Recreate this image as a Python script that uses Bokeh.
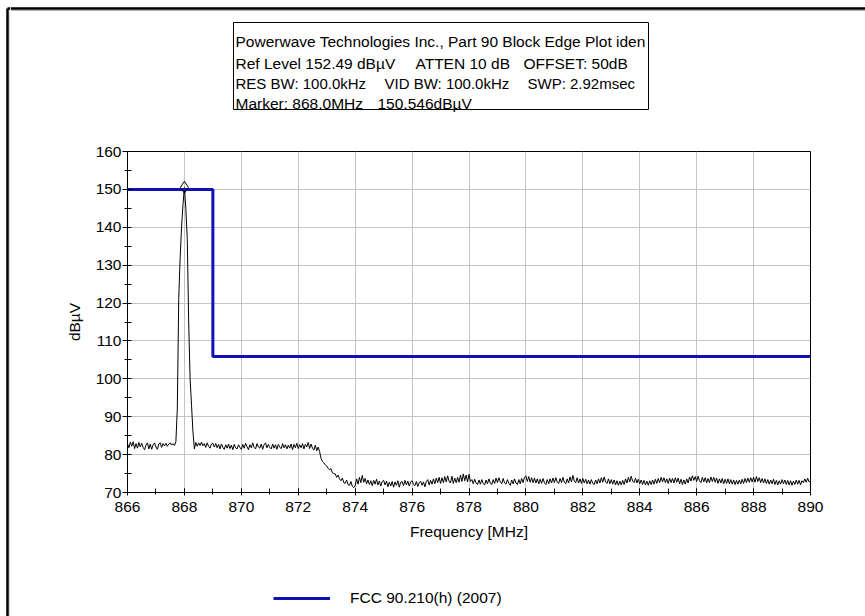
import numpy as np
from bokeh.plotting import figure
from bokeh.layouts import row, column
from bokeh.models import Range1d, Legend, LegendItem, SingleIntervalTicker, ColumnDataSource
from bokeh.core.properties import value
from bokeh.embed import file_html
from bokeh.resources import INLINE

# ---- sweep settings -------------------------------------------------------
f_start, f_stop = 866.0, 890.0   # MHz

# measured level, dBuV, one point every 50 kHz (one row per MHz)
trace_dbuv = [
    # 866
    82.9, 81.8, 83.3, 82.2, 83.4, 81.6, 82.9, 81.7, 83.2, 82.0,
    83.0, 81.9, 81.3, 82.5, 83.1, 81.5, 82.8, 81.4, 82.6, 83.1,
    # 867
    82.0, 81.4, 82.8, 83.1, 81.9, 82.9, 82.3, 83.0, 82.2, 82.8,
    83.1, 82.5, 82.9, 82.4, 83.4, 92.0, 121.0, 132.0, 140.0, 146.0,
    # 868
    150.5, 145.0, 137.0, 115.0, 100.0, 93.0, 86.0, 81.5, 83.2, 82.2,
    83.1, 82.4, 83.3, 82.3, 82.9, 81.9, 83.1, 82.2, 81.7, 82.8,
    # 869
    83.0, 82.0, 82.9, 81.8, 82.7, 81.5, 82.8, 81.9, 81.4, 82.6,
    81.7, 82.8, 81.6, 82.5, 81.3, 82.7, 81.8, 81.5, 82.6, 81.9,
    # 870
    81.4, 82.7, 81.7, 83.0, 82.1, 81.3, 82.6, 81.8, 83.1, 81.9,
    81.5, 82.9, 82.0, 81.7, 82.8, 81.4, 82.6, 83.1, 81.8, 82.7,
    # 871
    81.9, 81.5, 82.8, 81.7, 82.6, 81.4, 82.7, 81.9, 81.6, 82.9,
    81.8, 82.6, 81.5, 82.5, 81.7, 82.8, 81.3, 82.7, 81.8, 83.0,
    # 872
    81.6, 82.6, 81.8, 82.9, 81.5, 82.7, 82.0, 83.2, 81.6, 82.8,
    81.7, 81.2, 82.5, 81.0, 82.0, 80.8, 79.0, 78.2, 77.8, 77.3,
    # 873
    77.0, 76.4, 76.0, 76.3, 75.2, 75.0, 74.9, 74.0, 74.6, 73.6,
    73.1, 73.8, 72.6, 72.4, 73.3, 72.1, 71.9, 72.9, 71.6, 71.3,
    # 874
    71.8, 73.6, 72.2, 74.0, 72.6, 74.5, 72.7, 73.7, 72.3, 73.3,
    72.1, 73.1, 71.8, 73.2, 72.2, 73.5, 72.0, 73.0, 71.7, 72.9,
    # 875
    73.2, 72.0, 73.0, 71.5, 72.7, 71.7, 72.9, 71.4, 72.8, 71.9,
    73.1, 71.4, 72.7, 72.9, 71.8, 73.2, 72.0, 73.0, 71.7, 72.8,
    # 876
    73.1, 72.1, 71.8, 72.9, 71.6, 72.6, 73.0, 71.9, 72.8, 71.5,
    72.9, 73.4, 72.0, 73.2, 72.2, 73.6, 72.3, 73.8, 72.6, 74.0,
    # 877
    72.4, 73.9, 72.6, 74.2, 72.8, 74.4, 73.0, 72.5, 74.3, 72.4,
    73.8, 72.6, 74.0, 72.7, 74.6, 72.9, 74.9, 73.1, 74.6, 72.8,
    # 878
    74.8, 72.9, 73.4, 72.3, 73.5, 72.5, 72.1, 73.3, 72.2, 73.4,
    72.4, 72.0, 73.3, 72.3, 73.6, 72.5, 72.1, 73.4, 72.4, 73.8,
    # 879
    72.6, 73.9, 72.8, 72.3, 73.7, 72.5, 72.2, 73.4, 72.4, 71.9,
    73.3, 72.3, 73.6, 72.5, 72.1, 73.4, 72.3, 73.7, 72.6, 74.0,
    # 880
    74.4, 72.9, 74.2, 72.7, 73.9, 72.6, 73.8, 72.5, 73.6, 72.3,
    73.5, 72.4, 73.7, 72.6, 72.1, 73.4, 72.3, 73.6, 72.5, 73.8,
    # 881
    72.6, 73.9, 72.8, 72.4, 73.7, 72.6, 74.0, 72.7, 72.3, 73.6,
    72.5, 74.1, 72.8, 74.5, 73.0, 72.6, 73.9, 72.5, 73.6, 72.4,
    # 882
    73.7, 72.5, 73.5, 72.3, 73.3, 72.2, 73.4, 72.4, 72.1, 73.3,
    72.3, 73.6, 72.5, 73.9, 72.7, 74.1, 72.8, 72.4, 73.6, 72.3,
    # 883
    73.4, 72.2, 73.3, 72.0, 73.1, 71.9, 73.0, 72.0, 73.2, 72.1,
    73.6, 72.5, 74.0, 72.8, 74.3, 73.0, 72.6, 73.8, 72.5, 73.5,
    # 884
    72.3, 73.3, 72.1, 73.2, 72.0, 73.0, 71.9, 73.1, 72.1, 73.3,
    72.2, 73.5, 72.4, 73.7, 72.6, 74.0, 72.8, 73.9, 72.6, 73.6,
    # 885
    72.4, 73.8, 72.6, 73.7, 72.5, 73.9, 72.7, 73.8, 72.3, 73.5,
    72.1, 73.3, 72.2, 73.6, 72.5, 74.1, 73.0, 74.4, 73.2, 74.2,
    # 886
    72.9, 74.3, 73.1, 72.6, 74.0, 72.8, 73.9, 72.5, 73.7, 72.6,
    74.1, 72.9, 74.0, 72.7, 73.8, 72.4, 73.6, 72.5, 73.7, 72.3,
    # 887
    73.5, 72.4, 73.6, 72.3, 73.4, 72.2, 73.3, 72.1, 73.2, 72.2,
    73.3, 72.3, 73.5, 72.4, 73.7, 72.6, 73.8, 72.7, 73.9, 72.8,
    # 888
    74.0, 72.7, 74.2, 72.9, 73.9, 72.6, 73.7, 72.5, 73.6, 72.4,
    73.4, 72.2, 73.3, 72.3, 73.5, 72.1, 73.2, 72.0, 73.1, 72.2,
    # 889
    73.4, 72.3, 73.3, 72.1, 73.2, 72.0, 73.1, 71.9, 73.0, 72.1,
    73.3, 72.2, 73.2, 72.0, 73.1, 72.6, 73.6, 72.7, 73.8, 72.8,
    # 890
    73.1,
]
# sweep points are evenly spaced across the span
freq_mhz = np.linspace(f_start, f_stop, len(trace_dbuv))

# block-edge limit mask
limit_freq = [866.0, 869.0, 869.0, 890.0]
limit_dbuv = [150.0, 150.0, 105.9, 105.9]
limit_name = "FCC 90.210(h) (2007)"

# peak marker
marker_freq = [868.0]
marker_dbuv = [150.546]

# analyzer header, one entry per text run: (left edge px, row, text)
header_runs = [
    (235, 0, "Powerwave Technologies Inc., Part 90 Block Edge Plot iden"),
    (235, 1, "Ref Level 152.49 dB\u00b5V"),
    (415, 1, "ATTEN 10 dB"),
    (523, 1, "OFFSET: 50dB"),
    (235, 2, "RES BW: 100.0kHz"),
    (384, 2, "VID BW: 100.0kHz"),
    (527, 2, "SWP: 2.92msec"),
    (235, 3, "Marker: 868.0MHz"),
    (377, 3, "150.546dB\u00b5V"),
]
row_y = [41, 62.5, 83.3, 103]
row_font = ["15.5px", "15.5px", "15px", "15.5px"]

FONT = "Liberation Sans"
FSIZE = "15.5px"
LIMIT_COLOR = "#1010b4"
BORDER_GRAY = "#b0b0b0"

# page geometry, pixels from the top-left corner
W, H = 865, 616
STRIP_W = 10                 # left strip carrying the window edge
HEAD_H = 115                 # header band
MAIN_H = 437                 # chart band
FOOT_H = H - HEAD_H - MAIN_H  # legend band
FRAME_L, FRAME_R, FRAME_T, FRAME_B = 127, 810, 151, 492


def canvas_fig(width, height, x0, y0):
    """A figure whose frame fills it, addressed in page pixels (y down)."""
    f = figure(width=width, height=height, output_backend="svg", toolbar_location=None,
               x_range=Range1d(x0, x0 + width), y_range=Range1d(y0 + height, y0),
               x_axis_location=None, y_axis_location=None, title=None,
               min_border=0, frame_align=False)
    f.outline_line_color = None
    f.grid.visible = False
    f.background_fill_color = "white"
    f.border_fill_color = "white"
    return f


# ---- left strip: window edge ---------------------------------------------
strip = canvas_fig(STRIP_W, H, 0, 0)
strip.segment(x0=[7, 7], y0=[8, 8], x1=[7, STRIP_W], y1=[H, 8],
              line_color="black", line_width=2.5)
strip.segment(x0=[9.5, 9.5], y0=[10, 10], x1=[9.5, STRIP_W], y1=[H, 10],
              line_color=BORDER_GRAY, line_width=1)

# ---- header band: window edge + analyzer settings box ---------------------
head = canvas_fig(W - STRIP_W, HEAD_H, STRIP_W, 0)
head.segment(x0=[STRIP_W], y0=[8], x1=[W], y1=[8], line_color="black", line_width=2.5)
head.segment(x0=[STRIP_W], y0=[10], x1=[W], y1=[10], line_color=BORDER_GRAY, line_width=1)
head.quad(left=[233], right=[648], top=[22], bottom=[109],
          fill_color="white", line_color="black", line_width=1)

head_src = ColumnDataSource(dict(
    x=[x for x, r, t in header_runs],
    y=[row_y[r] for x, r, t in header_runs],
    size=[row_font[r] for x, r, t in header_runs],
    text=[t for x, r, t in header_runs],
))
head.text(x="x", y="y", text="text", source=head_src,
          text_font=value(FONT), text_font_size="size",
          text_color="black", text_baseline="alphabetic", text_align="left")

# ---- chart band ------------------------------------------------------------
p = figure(width=W - STRIP_W, height=MAIN_H, output_backend="svg", toolbar_location=None,
           x_range=Range1d(f_start, f_stop), y_range=Range1d(70, 160), title=None,
           min_border_left=FRAME_L - STRIP_W, min_border_right=W - FRAME_R,
           min_border_top=FRAME_T - HEAD_H,
           min_border_bottom=HEAD_H + MAIN_H - FRAME_B, frame_align=False)
p.background_fill_color = "white"
p.border_fill_color = "white"
p.outline_line_color = "black"
p.outline_line_width = 1
p.outline_line_alpha = 1.0

p.xaxis.ticker = SingleIntervalTicker(interval=2, num_minor_ticks=2)
p.yaxis.ticker = SingleIntervalTicker(interval=10, num_minor_ticks=2)
p.xaxis.axis_label = "Frequency [MHz]"
p.yaxis.axis_label = "dB\u00b5V"

for ax in (p.xaxis[0], p.yaxis[0]):
    ax.axis_line_color = "black"
    ax.major_tick_line_color = "black"
    ax.minor_tick_line_color = "black"
    ax.major_label_text_font = FONT
    ax.major_label_text_font_size = FSIZE
    ax.major_label_text_color = "black"
    ax.axis_label_text_font = FONT
    ax.axis_label_text_font_size = FSIZE
    ax.axis_label_text_font_style = "normal"
    ax.axis_label_text_color = "black"

p.xaxis.major_tick_in = 4
p.xaxis.major_tick_out = 3
p.xaxis.minor_tick_in = 4
p.xaxis.minor_tick_out = 2
p.xaxis.major_label_standoff = 6
p.xaxis.axis_label_standoff = 8

p.yaxis.major_tick_in = 3
p.yaxis.major_tick_out = 5
p.yaxis.minor_tick_in = 4
p.yaxis.minor_tick_out = 3
p.yaxis.major_label_standoff = 1
p.yaxis.axis_label_standoff = 10

p.xgrid.grid_line_color = "#c4c4c4"
p.ygrid.grid_line_color = "#c4c4c4"

# measured trace, limit mask, marker
p.line(freq_mhz, trace_dbuv, line_color="black", line_width=1)
p.line(limit_freq, limit_dbuv, line_color=LIMIT_COLOR, line_width=3)
p.scatter(marker_freq, marker_dbuv, marker="diamond", size=12,
          fill_alpha=0, line_color="black", line_width=1)

# ---- legend band -----------------------------------------------------------
foot = canvas_fig(W - STRIP_W, FOOT_H, STRIP_W, HEAD_H + MAIN_H)
key_r = foot.line(limit_freq, limit_dbuv, line_color=LIMIT_COLOR, line_width=3, visible=False)
legend = Legend(items=[LegendItem(label=limit_name, renderers=[key_r])],
                location=(273 - STRIP_W, H - 608), glyph_width=57, glyph_height=20,
                label_height=20, label_standoff=20, padding=0, margin=0, spacing=0,
                border_line_color=None, background_fill_alpha=0,
                label_text_font=FONT, label_text_font_size=FSIZE,
                label_text_color="black")
foot.add_layout(legend)

page = row(strip, column(head, p, foot, spacing=0), spacing=0)

open("out.html", "w").write(file_html(page, INLINE))
